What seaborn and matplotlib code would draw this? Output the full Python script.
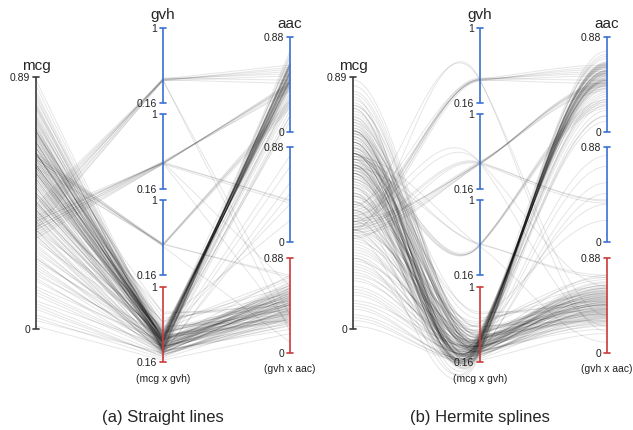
# Parallel coordinates with duplicated axes: straight lines vs Hermite splines

import numpy as np
import pandas as pd
import seaborn as sns
import matplotlib.pyplot as plt


# Data ........................................................................

# lines through the top gvh axis
c1_mcg = [0.36, 0.38, 0.40, 0.41, 0.42, 0.39, 0.44, 0.37, 0.43, 0.35]
c1_gvh = [0.41, 0.42, 0.43, 0.41, 0.42, 0.44, 0.42, 0.43, 0.41, 0.42]
c1_aac_axis = [0, 0, 0, 0, 0, 0, 0, 0, 2, 2]
c1_aac = [0.60, 0.56, 0.62, 0.52, 0.58, 0.48, 0.45, 0.54, 0.35, 0.20]

# lines through the second gvh axis
c2_mcg = [0.33, 0.35, 0.36, 0.38, 0.34, 0.37, 0.39, 0.36, 0.32, 0.35, 0.38, 0.40]
c2_gvh = [0.44, 0.45, 0.46, 0.45, 0.44, 0.47, 0.45, 0.46, 0.44, 0.45, 0.46, 0.45]
c2_aac_axis = [0, 0, 0, 0, 0, 0, 0, 1, 1, 1, 2, 2]
c2_aac = [0.46, 0.44, 0.42, 0.40, 0.45, 0.38, 0.43, 0.38, 0.36, 0.39, 0.62, 0.25]

# lines through the third gvh axis
c3_mcg = [0.58, 0.60, 0.61, 0.59, 0.62, 0.60, 0.57, 0.61]
c3_gvh = [0.49, 0.50, 0.51, 0.50, 0.49, 0.50, 0.51, 0.48]
c3_aac_axis = [0, 0, 0, 0, 0, 2, 2, 2]
c3_aac = [0.26, 0.28, 0.24, 0.30, 0.22, 0.72, 0.70, 0.10]

# dense bundle: red gvh axis -> top aac axis
c4_mcg = [0.72, 0.65, 0.58, 0.70, 0.62, 0.55, 0.68, 0.60, 0.52, 0.75,
          0.66, 0.57, 0.63, 0.48, 0.71, 0.59, 0.54, 0.67, 0.61, 0.50,
          0.78, 0.64, 0.56, 0.69, 0.45, 0.62, 0.58, 0.73, 0.53, 0.66,
          0.60, 0.42, 0.70, 0.57, 0.64, 0.51, 0.68, 0.55, 0.62, 0.47]
c4_gvh = [0.32, 0.36, 0.38, 0.40, 0.42, 0.44, 0.46, 0.48, 0.50, 0.52,
          0.33, 0.37, 0.39, 0.41, 0.43, 0.45, 0.47, 0.49, 0.30, 0.40,
          0.38, 0.42, 0.44, 0.46, 0.39, 0.41, 0.43, 0.34, 0.45, 0.40,
          0.31, 0.42, 0.48, 0.35, 0.44, 0.29, 0.41, 0.39, 0.43, 0.37]
c4_aac = [0.64, 0.54, 0.60, 0.50, 0.56, 0.46, 0.52, 0.43, 0.47, 0.37,
          0.55, 0.61, 0.52, 0.57, 0.47, 0.53, 0.43, 0.48, 0.64, 0.49,
          0.62, 0.49, 0.55, 0.45, 0.59, 0.48, 0.54, 0.63, 0.44, 0.60,
          0.57, 0.56, 0.41, 0.54, 0.51, 0.63, 0.50, 0.61, 0.48, 0.57]

# spread: red gvh axis -> red aac axis
c5_mcg = [0.86, 0.81, 0.77, 0.74, 0.79, 0.70, 0.68, 0.72, 0.65, 0.63, 0.66,
          0.60, 0.58, 0.61, 0.56, 0.53, 0.55, 0.50, 0.52, 0.47, 0.49, 0.45,
          0.43, 0.46, 0.41, 0.38, 0.40, 0.36, 0.34, 0.37, 0.31, 0.33, 0.29,
          0.27, 0.30, 0.25, 0.22, 0.24, 0.20, 0.18, 0.15, 0.17, 0.12, 0.10,
          0.08, 0.13, 0.05, 0.03, 0.01, 0.07, 0.64, 0.57, 0.44, 0.69, 0.35]
c5_gvh = [0.35, 0.47, 0.30, 0.40, 0.33, 0.51, 0.37, 0.27, 0.43, 0.32, 0.55,
          0.38, 0.29, 0.46, 0.34, 0.41, 0.60, 0.31, 0.36, 0.49, 0.28, 0.39,
          0.33, 0.53, 0.42, 0.26, 0.35, 0.45, 0.31, 0.38, 0.50, 0.29, 0.34,
          0.41, 0.27, 0.36, 0.32, 0.44, 0.30, 0.24, 0.39, 0.33, 0.27, 0.34,
          0.22, 0.29, 0.24, 0.26, 0.18, 0.22, 0.65, 0.72, 0.62, 0.70, 0.56]
c5_aac = [0.45, 0.52, 0.38, 0.60, 0.33, 0.48, 0.55, 0.28, 0.42, 0.65, 0.36,
          0.50, 0.58, 0.30, 0.47, 0.40, 0.62, 0.35, 0.53, 0.44, 0.25, 0.57,
          0.39, 0.68, 0.46, 0.32, 0.51, 0.41, 0.59, 0.37, 0.49, 0.22, 0.54,
          0.43, 0.34, 0.63, 0.47, 0.29, 0.56, 0.40, 0.72, 0.36, 0.50, 0.27,
          0.45, 0.60, 0.33, 0.52, 0.18, 0.41, 0.48, 0.38, 0.55, 0.44, 0.30]

# more of the same spread
c7_mcg = [0.88, 0.83, 0.79, 0.75, 0.71, 0.84, 0.67, 0.62, 0.76, 0.59, 0.64, 0.54,
          0.69, 0.51, 0.57, 0.47, 0.62, 0.44, 0.53, 0.39, 0.48, 0.35, 0.42, 0.32,
          0.28, 0.38, 0.23, 0.19, 0.26, 0.14, 0.09, 0.21, 0.04, 0.73, 0.56]
c7_gvh = [0.38, 0.32, 0.45, 0.29, 0.41, 0.34, 0.48, 0.31, 0.36, 0.43, 0.27, 0.40,
          0.33, 0.52, 0.37, 0.30, 0.44, 0.35, 0.28, 0.39, 0.47, 0.32, 0.41, 0.26,
          0.34, 0.38, 0.28, 0.42, 0.24, 0.30, 0.25, 0.35, 0.20, 0.57, 0.50]
c7_aac = [0.42, 0.56, 0.35, 0.49, 0.61, 0.38, 0.53, 0.45, 0.66, 0.31, 0.47, 0.58,
          0.40, 0.51, 0.36, 0.63, 0.44, 0.55, 0.29, 0.48, 0.57, 0.39, 0.46, 0.52,
          0.34, 0.60, 0.43, 0.50, 0.37, 0.54, 0.26, 0.45, 0.32, 0.70, 0.41]

# sparse crossing lines from the red gvh axis
c6_mcg = [0.80, 0.55, 0.35, 0.62, 0.48, 0.70, 0.25, 0.58, 0.42, 0.66]
c6_gvh = [0.30, 0.45, 0.25, 0.60, 0.38, 0.28, 0.33, 0.50, 0.27, 0.40]
c6_aac_axis = [1, 1, 1, 1, 0, 0, 1, 0, 1, 0]
c6_aac = [0.70, 0.35, 0.55, 0.20, 0.25, 0.15, 0.80, 0.30, 0.45, 0.10]

# red gvh axis -> top aac axis, loose
c8_mcg = [0.82, 0.74, 0.66, 0.58, 0.50, 0.45, 0.70, 0.62, 0.55, 0.40, 0.78, 0.33]
c8_gvh = [0.28, 0.35, 0.31, 0.42, 0.26, 0.38, 0.30, 0.45, 0.33, 0.29, 0.37, 0.24]
c8_aac = [0.70, 0.35, 0.65, 0.28, 0.72, 0.40, 0.20, 0.68, 0.33, 0.75, 0.15, 0.62]

dims = ["mcg", "gvh", "aac"]


# Layout (pixels) .............................................................

W, H = 633, 431
SPACING = 127
X0 = 36
MCG_AXIS = (78, 330)
GVH_AXES = [(29, 104), (115, 190), (201, 276), (288, 363)]
AAC_AXES = [(38, 133), (148, 243), (259, 354)]
BLUE, RED, DARK = "#3a6fd3", "#cc3a3a", "#3a3a3a"
GVH_COLORS = [BLUE, BLUE, BLUE, RED]
AAC_COLORS = [BLUE, BLUE, RED]


def y_mcg(v):
    top, bot = MCG_AXIS
    return bot - v / 0.89 * (bot - top)

def y_gvh(k, v):
    top, bot = GVH_AXES[k]
    return top + (1 - v) / 0.84 * (bot - top)

def y_aac(k, v):
    top, bot = AAC_AXES[k]
    return top + (0.88 - v) / 0.88 * (bot - top)


# Collect polylines ...........................................................

lines = []
def add(mcg, gvh_k, gvh, aac_k, aac):
    for i in range(len(mcg)):
        ka = aac_k[i] if isinstance(aac_k, list) else aac_k
        lines.append([y_mcg(mcg[i]), y_gvh(gvh_k, gvh[i]), y_aac(ka, aac[i])])

add(c1_mcg, 0, c1_gvh, c1_aac_axis, c1_aac)
add(c2_mcg, 1, c2_gvh, c2_aac_axis, c2_aac)
add(c3_mcg, 2, c3_gvh, c3_aac_axis, c3_aac)
add(c4_mcg, 3, c4_gvh, 0, c4_aac)
add(c5_mcg, 3, c5_gvh, 2, c5_aac)
add(c7_mcg, 3, c7_gvh, 2, c7_aac)
add(c6_mcg, 3, c6_gvh, c6_aac_axis, c6_aac)
add(c8_mcg, 3, c8_gvh, 0, c8_aac)

# straight polylines
rows = []
for i, ys in enumerate(lines):
    for j in range(3):
        rows.append((i, j, ys[j]))
df_straight = pd.DataFrame(rows, columns=["line", "x", "y"])

# cubic Hermite splines: flat at the outer axes, forward slope at gvh
t = np.linspace(0, 1, 40)
h00 = 2 * t**3 - 3 * t**2 + 1
h10 = t**3 - 2 * t**2 + t
h01 = -2 * t**3 + 3 * t**2
h11 = t**3 - t**2
rows = []
for i, ys in enumerate(lines):
    m = [0.0, ys[2] - ys[1], 0.0]
    for s in range(2):
        yy = h00 * ys[s] + h10 * m[s] + h01 * ys[s + 1] + h11 * m[s + 1]
        for tt, y in zip(t + s, yy):
            rows.append((i, tt, y))
df_spline = pd.DataFrame(rows, columns=["line", "x", "y"])


# Plot ........................................................................

sns.set_style("white")
plt.rcParams["font.family"] = ["Liberation Sans", "DejaVu Sans"]

fig = plt.figure(figsize = (W / 100, H / 100), dpi = 100)
panel_w = 316 / W
ax_a = fig.add_axes([0, 0, panel_w, 1])
ax_b = fig.add_axes([317 / W, 0, panel_w, 1])

cap = 3 / SPACING

def draw_axis(ax, x, top, bot, color, lab_top, lab_bot):
    ax.plot([x, x], [top, bot], color = color, lw = 1.2, zorder = 3, solid_capstyle = "butt")
    for y, lab in [(top, lab_top), (bot, lab_bot)]:
        ax.plot([x - cap, x + cap], [y, y], color = color, lw = 1.2, zorder = 3)
        ax.text(x - 2 * cap, y, lab, ha = "right", va = "center", fontsize = 7.5, color = "#222222")

for ax, df, title in [(ax_a, df_straight, "(a) Straight lines"),
                      (ax_b, df_spline, "(b) Hermite splines")]:
    sns.lineplot(data = df, x = "x", y = "y", units = "line", estimator = None, sort = False,
                 color = "black", alpha = 0.1, lw = 0.7, ax = ax, legend = False)

    draw_axis(ax, 0, MCG_AXIS[0], MCG_AXIS[1], DARK, "0.89", "0")
    for (top, bot), col in zip(GVH_AXES, GVH_COLORS):
        draw_axis(ax, 1, top, bot, col, "1", "0.16")
    for (top, bot), col in zip(AAC_AXES, AAC_COLORS):
        draw_axis(ax, 2, top, bot, col, "0.88", "0")

    ax.text(0, MCG_AXIS[0] - 8, dims[0], ha = "center", va = "baseline", fontsize = 11)
    ax.text(1, GVH_AXES[0][0] - 10, dims[1], ha = "center", va = "baseline", fontsize = 11)
    ax.text(2, AAC_AXES[0][0] - 10, dims[2], ha = "center", va = "baseline", fontsize = 11)
    ax.text(1, GVH_AXES[-1][1] + 16, "(mcg x gvh)", ha = "center", va = "center", fontsize = 7.5, color = "#222222")
    ax.text(2, AAC_AXES[-1][1] + 15, "(gvh x aac)", ha = "center", va = "center", fontsize = 7.5, color = "#222222")
    ax.text(1, 418, title, ha = "center", va = "center", fontsize = 12)

    ax.set_xlim(-X0 / SPACING, (316 - X0) / SPACING)
    ax.set_ylim(H, 0)
    ax.axis("off")

plt.savefig("out.png", dpi = 100)
